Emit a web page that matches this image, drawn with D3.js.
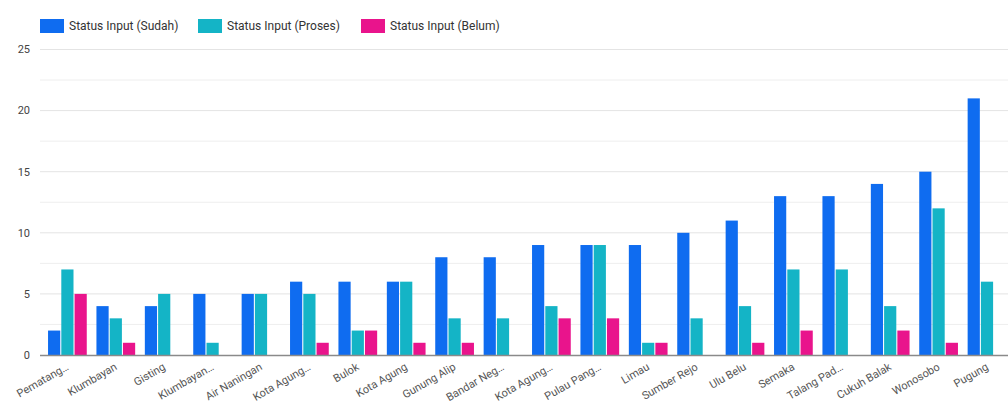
<!DOCTYPE html>
<html><head><meta charset="utf-8">
<script src="https://cdn.jsdelivr.net/npm/d3@7"></script>
<style>
html,body{margin:0;padding:0;background:#fff;}
svg{display:block;font-family:Roboto,"Noto Sans",sans-serif;}
</style></head>
<body>
<svg id="chart" width="1008" height="403"></svg>
<script>
const categories = ["Pematang…","Klumbayan","Gisting","Klumbayan…","Air Naningan","Kota Agung…","Bulok","Kota Agung","Gunung Alip","Bandar Neg…","Kota Agung…","Pulau Pang…","Limau","Sumber Rejo","Ulu Belu","Semaka","Talang Pad…","Cukuh Balak","Wonosobo","Pugung"];
const sudah  = [2,4,4,5,5,6,6,6,8,8,9,9,9,10,11,13,13,14,15,21];
const proses = [7,3,5,1,5,5,2,6,3,3,4,9,1,3,4,7,7,4,12,6];
const belum  = [5,1,0,0,0,1,2,1,1,0,3,3,1,0,1,2,0,2,1,0];
const seriesNames = ["Status Input (Sudah)","Status Input (Proses)","Status Input (Belum)"];
const seriesColors = ["#0f6cf0","#14b4c6","#e9148c"];
const yTicks = [0,5,10,15,20,25];
const yGrid = [0,2.5,5,7.5,10,12.5,15,17.5,20,22.5,25];

const seriesData = [sudah, proses, belum];
const svg = d3.select("#chart");

const y = d3.scaleLinear().domain([0,25]).range([355,49.5]);
const idx = d3.range(categories.length);
const x0 = d3.scaleBand().domain(idx).range([43.2,1011.2]).paddingInner(0.2).paddingOuter(0.1);
const x1 = d3.scaleBand().domain([0,1,2]).range([0,x0.bandwidth()]).paddingInner(0.08);

// grid
svg.append("g").selectAll("line").data(yGrid.filter(d=>d!==0)).join("line")
  .attr("x1",40).attr("x2",1008)
  .attr("y1",d=>y(d)).attr("y2",d=>y(d))
  .attr("stroke",d=> d%5===0 ? "#e4e4e4" : "#eeeeee").attr("stroke-width",1);

// y labels
svg.append("g").selectAll("text").data(yTicks).join("text")
  .attr("x",30).attr("y",d=>y(d)).attr("dy","0.35em")
  .attr("text-anchor","end").attr("font-size",11).attr("fill","#444")
  .text(d=>d);

// bars
const groups = svg.append("g").selectAll("g").data(idx).join("g")
  .attr("transform",i=>`translate(${x0(i)},0)`);
groups.selectAll("rect").data(i=>seriesData.map((s,k)=>({k,v:s[i]}))).join("rect")
  .attr("x",d=>x1(d.k)).attr("width",x1.bandwidth())
  .attr("y",d=>y(d.v)).attr("height",d=>y(0)-y(d.v))
  .attr("fill",d=>seriesColors[d.k]);

// baseline
svg.append("line").attr("x1",40).attr("x2",1008).attr("y1",y(0)+0.5).attr("y2",y(0)+0.5)
  .attr("stroke","#8a8a8a").attr("stroke-width",1.5);

// x labels
svg.append("g").selectAll("text").data(idx).join("text")
  .attr("transform",i=>`translate(${x0(i)+x0.bandwidth()/2+2},${369}) rotate(-30)`)
  .attr("text-anchor","end").attr("font-size",11).attr("fill","#555")
  .text(i=>categories[i]);

// legend
const legendX = [40,198,361];
const lg = svg.append("g").selectAll("g").data(seriesNames).join("g")
  .attr("transform",(d,i)=>`translate(${legendX[i]},19)`);
lg.append("rect").attr("width",24).attr("height",14).attr("fill",(d,i)=>seriesColors[i]);
lg.append("text").attr("x",29).attr("y",7).attr("dy","0.35em")
  .attr("font-size",12).attr("fill","#333").text(d=>d);
</script>
</body></html>
